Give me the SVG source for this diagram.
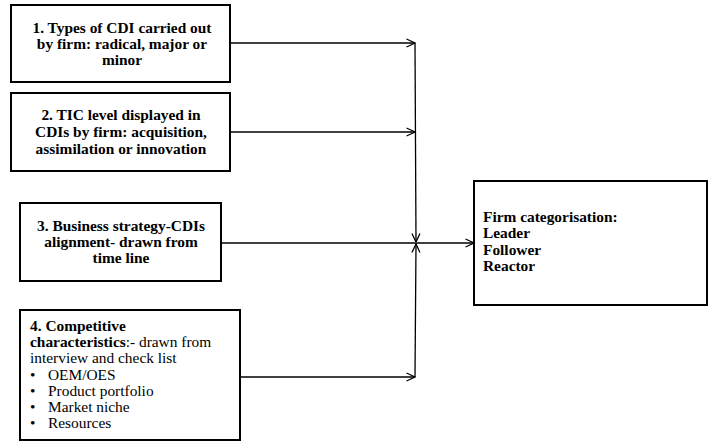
<svg xmlns="http://www.w3.org/2000/svg" width="709" height="441" viewBox="0 0 709 441">
  <style>
    .t { font-family: "Liberation Serif", "Times New Roman", serif; font-size: 15.4px; fill: #000; }
    .b { font-weight: bold; }
    .c { text-anchor: middle; }
    .box { fill: #fff; stroke: #000; stroke-width: 2; }
    .wire { fill: none; stroke: #000; stroke-width: 1.3; }
  </style>
  <defs>
    <!-- open chevron arrowhead used on every connector -->
    <marker id="arrow" viewBox="0 0 10 10" refX="9.5" refY="5" markerWidth="10" markerHeight="10" markerUnits="userSpaceOnUse" orient="auto">
      <path d="M1,1 L9.5,5 L1,9" fill="none" stroke="#000" stroke-width="1.3"/>
    </marker>
  </defs>
  <rect width="709" height="441" fill="#fff"/>

  <g id="types-of-cdi">
    <rect class="box" x="11" y="5" width="219" height="77"/>
    <text class="t b c" x="122" y="33">1. Types of CDI carried out</text>
    <text class="t b c" x="122" y="49">by firm: radical, major or</text>
    <text class="t b c" x="122" y="65">minor</text>
  </g>

  <g id="tic-level">
    <rect class="box" x="11" y="93" width="219" height="78"/>
    <text class="t b c" x="121" y="120">2. TIC level displayed in</text>
    <text class="t b c" x="121" y="137">CDIs by firm: acquisition,</text>
    <text class="t b c" x="121" y="154">assimilation or innovation</text>
  </g>

  <g id="business-strategy">
    <rect class="box" x="20" y="203" width="201" height="78"/>
    <text class="t b c" x="121" y="231">3. Business strategy-CDIs</text>
    <text class="t b c" x="121" y="247">alignment- drawn from</text>
    <text class="t b c" x="121" y="263">time line</text>
  </g>

  <g id="competitive-characteristics">
    <rect class="box" x="20" y="310" width="220" height="130"/>
    <text class="t b" x="30" y="331">4. Competitive</text>
    <text class="t" x="30" y="347"><tspan class="b">characteristics</tspan>:- drawn from</text>
    <text class="t" x="30" y="363">interview and check list</text>
    <text class="t" x="30" y="380">•</text><text class="t" x="48" y="380">OEM/OES</text>
    <text class="t" x="30" y="396">•</text><text class="t" x="48" y="396">Product portfolio</text>
    <text class="t" x="30" y="412">•</text><text class="t" x="48" y="412">Market niche</text>
    <text class="t" x="30" y="428">•</text><text class="t" x="48" y="428">Resources</text>
  </g>

  <g id="firm-categorisation">
    <rect class="box" x="474" y="181" width="233" height="124"/>
    <text class="t b" x="483" y="222">Firm categorisation:</text>
    <text class="t b" x="483" y="238">Leader</text>
    <text class="t b" x="483" y="255">Follower</text>
    <text class="t b" x="483" y="271">Reactor</text>
  </g>

  <g id="connectors">
    <line class="wire" x1="230" y1="43" x2="415" y2="43" marker-end="url(#arrow)"/>
    <line class="wire" x1="230" y1="132" x2="415" y2="132" marker-end="url(#arrow)"/>
    <line class="wire" x1="415" y1="43" x2="416" y2="242" marker-end="url(#arrow)"/>
    <line class="wire" x1="221" y1="243" x2="474" y2="243" marker-end="url(#arrow)"/>
    <line class="wire" x1="240" y1="377" x2="415" y2="377" marker-end="url(#arrow)"/>
    <line class="wire" x1="415" y1="377" x2="416" y2="244" marker-end="url(#arrow)"/>
  </g>
</svg>
